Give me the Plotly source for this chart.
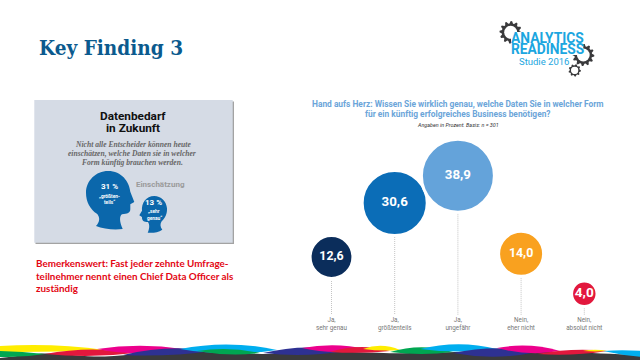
import math
import plotly.graph_objects as go

categories = ["Ja,<br>sehr genau", "Ja,<br>größtenteils", "Ja,<br>ungefähr", "Nein,<br>eher nicht", "Nein,<br>absolut nicht"]
values = [12.6, 30.6, 38.9, 14.0, 4.0]
value_labels = ["12,6", "30,6", "38,9", "14,0", "4,0"]
bubble_colors = ["#0B2D5B", "#0B6DB7", "#64A3DA", "#F9A11F", "#E2183D"]
# layout: vertical placement of the bubbles as seen in the picture
bubble_y = [257, 203, 175.7, 253.8, 293.7]
label_sizes = [12.4, 13.3, 13.3, 12.4, 13.6]
STEM_BOTTOM = 315
RADIUS_PER_SQRT = 5.61
HALO = 3

shapes = []


def poly(path, color, layer="below"):
    shapes.append(dict(type="path", xref="x", yref="y", path=path, fillcolor=color,
                       line=dict(width=0), layer=layer))


def rect(x0, y0, x1, y1, color):
    shapes.append(dict(type="rect", xref="x", yref="y", x0=x0, y0=y0, x1=x1, y1=y1,
                       fillcolor=color, line=dict(width=0), layer="below"))


def circle(cx, cy, r, color):
    shapes.append(dict(type="circle", xref="x", yref="y", x0=cx - r, y0=cy - r, x1=cx + r, y1=cy + r,
                       fillcolor=color, line=dict(width=0), layer="below"))


def lens(x0, x1, y0, y1, top, bot, color):
    cx = (x0 + x1) / 2
    m = (y0 + y1) / 2
    c_top = 2 * top - m
    c_bot = 2 * bot - m
    poly(f"M {x0} {y0} Q {cx} {c_top} {x1} {y1} Q {cx} {c_bot} {x0} {y0} Z", color)


def gear(cx, cy, r, teeth, color="#3A3A3C"):
    pts = []
    n = teeth * 4
    for i in range(n):
        a = 2 * math.pi * i / n
        rr = r if i % 4 in (0, 1) else r * 0.8
        pts.append(f"{cx + rr * math.cos(a):.2f} {cy + rr * math.sin(a):.2f}")
    poly("M " + " L ".join(pts) + " Z", color)
    circle(cx, cy, r * 0.58, "#FFFFFF")


# --- footer waves
DARK = "#3A3A3C"
poly("M 0 358 C 20 356 35 353 50 353.5 C 70 354 85 357 105 356.5 C 130 355 160 351 190 351.5 "
     "C 220 352 240 354 270 354 C 300 354 320 352 345 352 C 370 352 385 354 410 353 "
     "C 440 353 470 351 500 351 C 540 352 580 352 640 355 L 640 360 L 0 360 Z", DARK)
lens(-45, 105, 351, 350, 345, 352, "#FFED00")
lens(-40, 45, 352, 354, 351, 357, "#00A651")
lens(45, 135, 354, 353, 349.5, 356, "#E2183D")
lens(97, 183, 349, 349, 345.7, 353.3, "#EC008C")
lens(123, 213, 355, 351, 348.5, 355, "#2E3192")
lens(180, 277, 349, 350, 344.4, 353.3, "#00AEEF")
lens(197, 260, 351, 353, 349, 354.3, "#00A651")
lens(263, 345, 353, 351, 347.5, 355, "#2E3192")
lens(302, 367, 348, 349, 345.2, 352, "#EC008C")
lens(330, 390, 352, 351, 347, 352.8, "#E2183D")
lens(363, 400, 349, 350, 345.8, 350.5, "#FFED00")
lens(390, 453, 352, 352, 347.3, 354, "#00A651")
lens(420, 497, 349, 349, 344.3, 351.5, "#00AEEF")
lens(453, 537, 353, 352, 348.3, 356.7, "#2E3192")
lens(497, 560, 348, 351, 345.7, 353, "#EC008C")
lens(537, 607, 354, 351, 350, 354.5, "#E2183D")
lens(583, 607, 351, 351, 349.8, 351.4, "#FFED00")
lens(603, 680, 351, 358, 351, 357, "#00AEEF")

# --- logo gears
gear(510.7, 32.3, 11.2, 12)
gear(583.3, 55, 11, 12)
gear(574.7, 70.3, 6.2, 9)
circle(574.7, 70.3, 3.4, "#FFFFFF")
rect(511, 32, 583.3, 55, "#FFFFFF")

# --- info panel
rect(35.5, 101.5, 234, 244, "#A3A3A3")
rect(34.3, 100, 232.7, 242.7, "#D5DBE5")
BLUE = "#0B67AB"


def z(x, y):
    return f"{x / 3 + 20:.1f} {y / 3 + 90:.1f}"


big_head = ("M " + z(264, 243) + " C " + z(305, 243) + " " + z(328, 275) + " " + z(331, 305) +
            " L " + z(343, 336) + " L " + z(331, 343) + " L " + z(331, 358) + " C " + z(331, 368) + " " +
            z(322, 372) + " " + z(306, 373) + " C " + z(298, 378) + " " + z(298, 395) + " " + z(308, 417) +
            " C " + z(285, 420) + " " + z(250, 418) + " " + z(228, 408) + " C " + z(240, 395) + " " +
            z(240, 383) + " " + z(232, 372) + " C " + z(210, 358) + " " + z(198, 335) + " " + z(198, 308) +
            " C " + z(198, 272) + " " + z(228, 243) + " " + z(264, 243) + " Z")
poly(big_head, BLUE)
small_head = ("M " + z(403, 318) + " C " + z(378, 318) + " " + z(364, 340) + " " + z(366, 362) +
              " L " + z(358, 376) + " L " + z(366, 381) + " C " + z(365, 392) + " " + z(372, 396) + " " +
              z(384, 396) + " C " + z(390, 405) + " " + z(388, 418) + " " + z(383, 428) + " C " + z(398, 430) +
              " " + z(415, 427) + " " + z(427, 419) + " C " + z(420, 410) + " " + z(420, 402) + " " + z(425, 394) +
              " C " + z(436, 384) + " " + z(442, 370) + " " + z(441, 355) + " C " + z(439, 333) + " " + z(423, 318) +
              " " + z(403, 318) + " Z")
poly(small_head, BLUE)

annotations = []


def text(x, y, s, size, color, family="Roboto", anchor="center", weight="normal", style="normal"):
    annotations.append(dict(x=x, y=y, xref="x", yref="y", text=s, showarrow=False, xanchor=anchor,
                            yanchor="middle", align=anchor if anchor != "middle" else "center",
                            font=dict(size=size, color=color, family=family, weight=weight, style=style)))


text(37, 48, "Key Finding 3", 20.6, "#0B5A8E", "DejaVu Serif Condensed", "left", "bold")
text(547.5, 37.7, "ANALYTICS", 13.8, "#1BA6E0", "Roboto", "center", "bold")
text(547.5, 49.3, "READINESS", 13.8, "#1BA6E0", "Roboto", "center", "bold")
text(544, 61, "Studie 2016", 9.5, "#1BA6E0", "Roboto", "center", "normal")

text(133, 116, "Datenbedarf", 11.8, "#101010", "Roboto", "center", "bold")
text(133, 128, "in Zukunft", 11.8, "#101010", "Roboto", "center", "bold")
for yy, line in zip((144, 153.3, 162.5), ("Nicht alle Entscheider können heute",
                                         "einschätzen, welche Daten sie in welcher",
                                         "Form künftig brauchen werden.")):
    text(132.5, yy, line, 7.6, "#666666", "Liberation Serif", "center", "bold", "italic")
text(160, 184.3, "Einschätzung", 8, "#9A9A9A", "Roboto", "center", "bold")
text(109, 186.7, "31 %", 8, "#FFFFFF", "Roboto", "center", "bold")
text(109, 196.7, "„größten-", 4.8, "#FFFFFF", "Roboto", "center", "bold")
text(109, 202.2, "teils“", 4.8, "#FFFFFF", "Roboto", "center", "bold")
text(153.5, 202.7, "13 %", 8, "#FFFFFF", "Roboto", "center", "bold")
text(154, 211.7, "„sehr", 4.8, "#FFFFFF", "Roboto", "center", "bold")
text(154, 218, "genau“", 4.8, "#FFFFFF", "Roboto", "center", "bold")

for yy, line in zip((262.7, 275.7, 288.3), ("Bemerkenswert: Fast jeder zehnte Umfrage-",
                                            "teilnehmer nennt einen Chief Data Officer als",
                                            "zuständig")):
    text(34, yy, line, 9.85, "#E30613", "Lato", "left", "bold")

text(458, 103.7, "Hand aufs Herz: Wissen Sie wirklich genau, welche Daten Sie in welcher Form", 8.4, "#6BA5D9", "Roboto", "center", "bold")
text(458, 114, "für ein künftig erfolgreiches Business benötigen?", 8.4, "#6BA5D9", "Roboto", "center", "bold")
text(458, 125, "Angaben in Prozent. Basis: n = 301", 5.4, "#333333", "Roboto", "center", "normal", "italic")

fig = go.Figure()
# invisible carrier for the page-wide axes used by the decoration
fig.add_trace(go.Scatter(x=[0], y=[0], mode="markers", marker=dict(opacity=0), xaxis="x", yaxis="y",
                         showlegend=False, hoverinfo="skip"))
for cat, h in zip(categories, bubble_y):
    fig.add_trace(go.Scatter(x=[cat, cat], y=[h, STEM_BOTTOM], mode="lines", xaxis="x2", yaxis="y2",
                             line=dict(color="#C4C4C4", width=1, dash="1px,1px"), showlegend=False, hoverinfo="skip"))
fig.add_trace(go.Scatter(
    x=categories, y=bubble_y, mode="markers+text", xaxis="x2", yaxis="y2", showlegend=False,
    text=value_labels, textposition="middle center",
    textfont=dict(color="#FFFFFF", family="Roboto", size=label_sizes, weight="bold"),
    marker=dict(size=[2 * RADIUS_PER_SQRT * math.sqrt(v) + HALO for v in values], sizemode="diameter",
                color=bubble_colors, opacity=1, line=dict(color="#FFFFFF", width=HALO)),
    customdata=values, hovertemplate="%{customdata}<extra></extra>"))

fig.update_layout(
    width=640, height=360, autosize=False, margin=dict(l=0, r=0, t=0, b=0, pad=0),
    paper_bgcolor="#FFFFFF", plot_bgcolor="rgba(0,0,0,0)", showlegend=False,
    shapes=shapes, annotations=annotations,
    xaxis=dict(range=[0, 640], visible=False, domain=[0, 1], fixedrange=True, automargin=False),
    yaxis=dict(range=[360, 0], visible=False, domain=[0, 1], fixedrange=True, automargin=False),
    xaxis2=dict(type="category", categoryorder="array", categoryarray=categories, range=[-0.5, 4.5],
                domain=[299.9 / 640, 615.9 / 640], anchor="y2", showgrid=False, showline=False, zeroline=False,
                ticks="", tickfont=dict(size=6.3, color="#777777", family="Roboto"), automargin=False),
    yaxis2=dict(range=[STEM_BOTTOM, 0], domain=[(360 - STEM_BOTTOM) / 360, 1], anchor="x2", visible=False,
                fixedrange=True, automargin=False),
)
fig.write_html("out.html", config=dict(displayModeBar=False),
               post_script="document.body.style.margin='0';document.documentElement.style.overflow='hidden';")
